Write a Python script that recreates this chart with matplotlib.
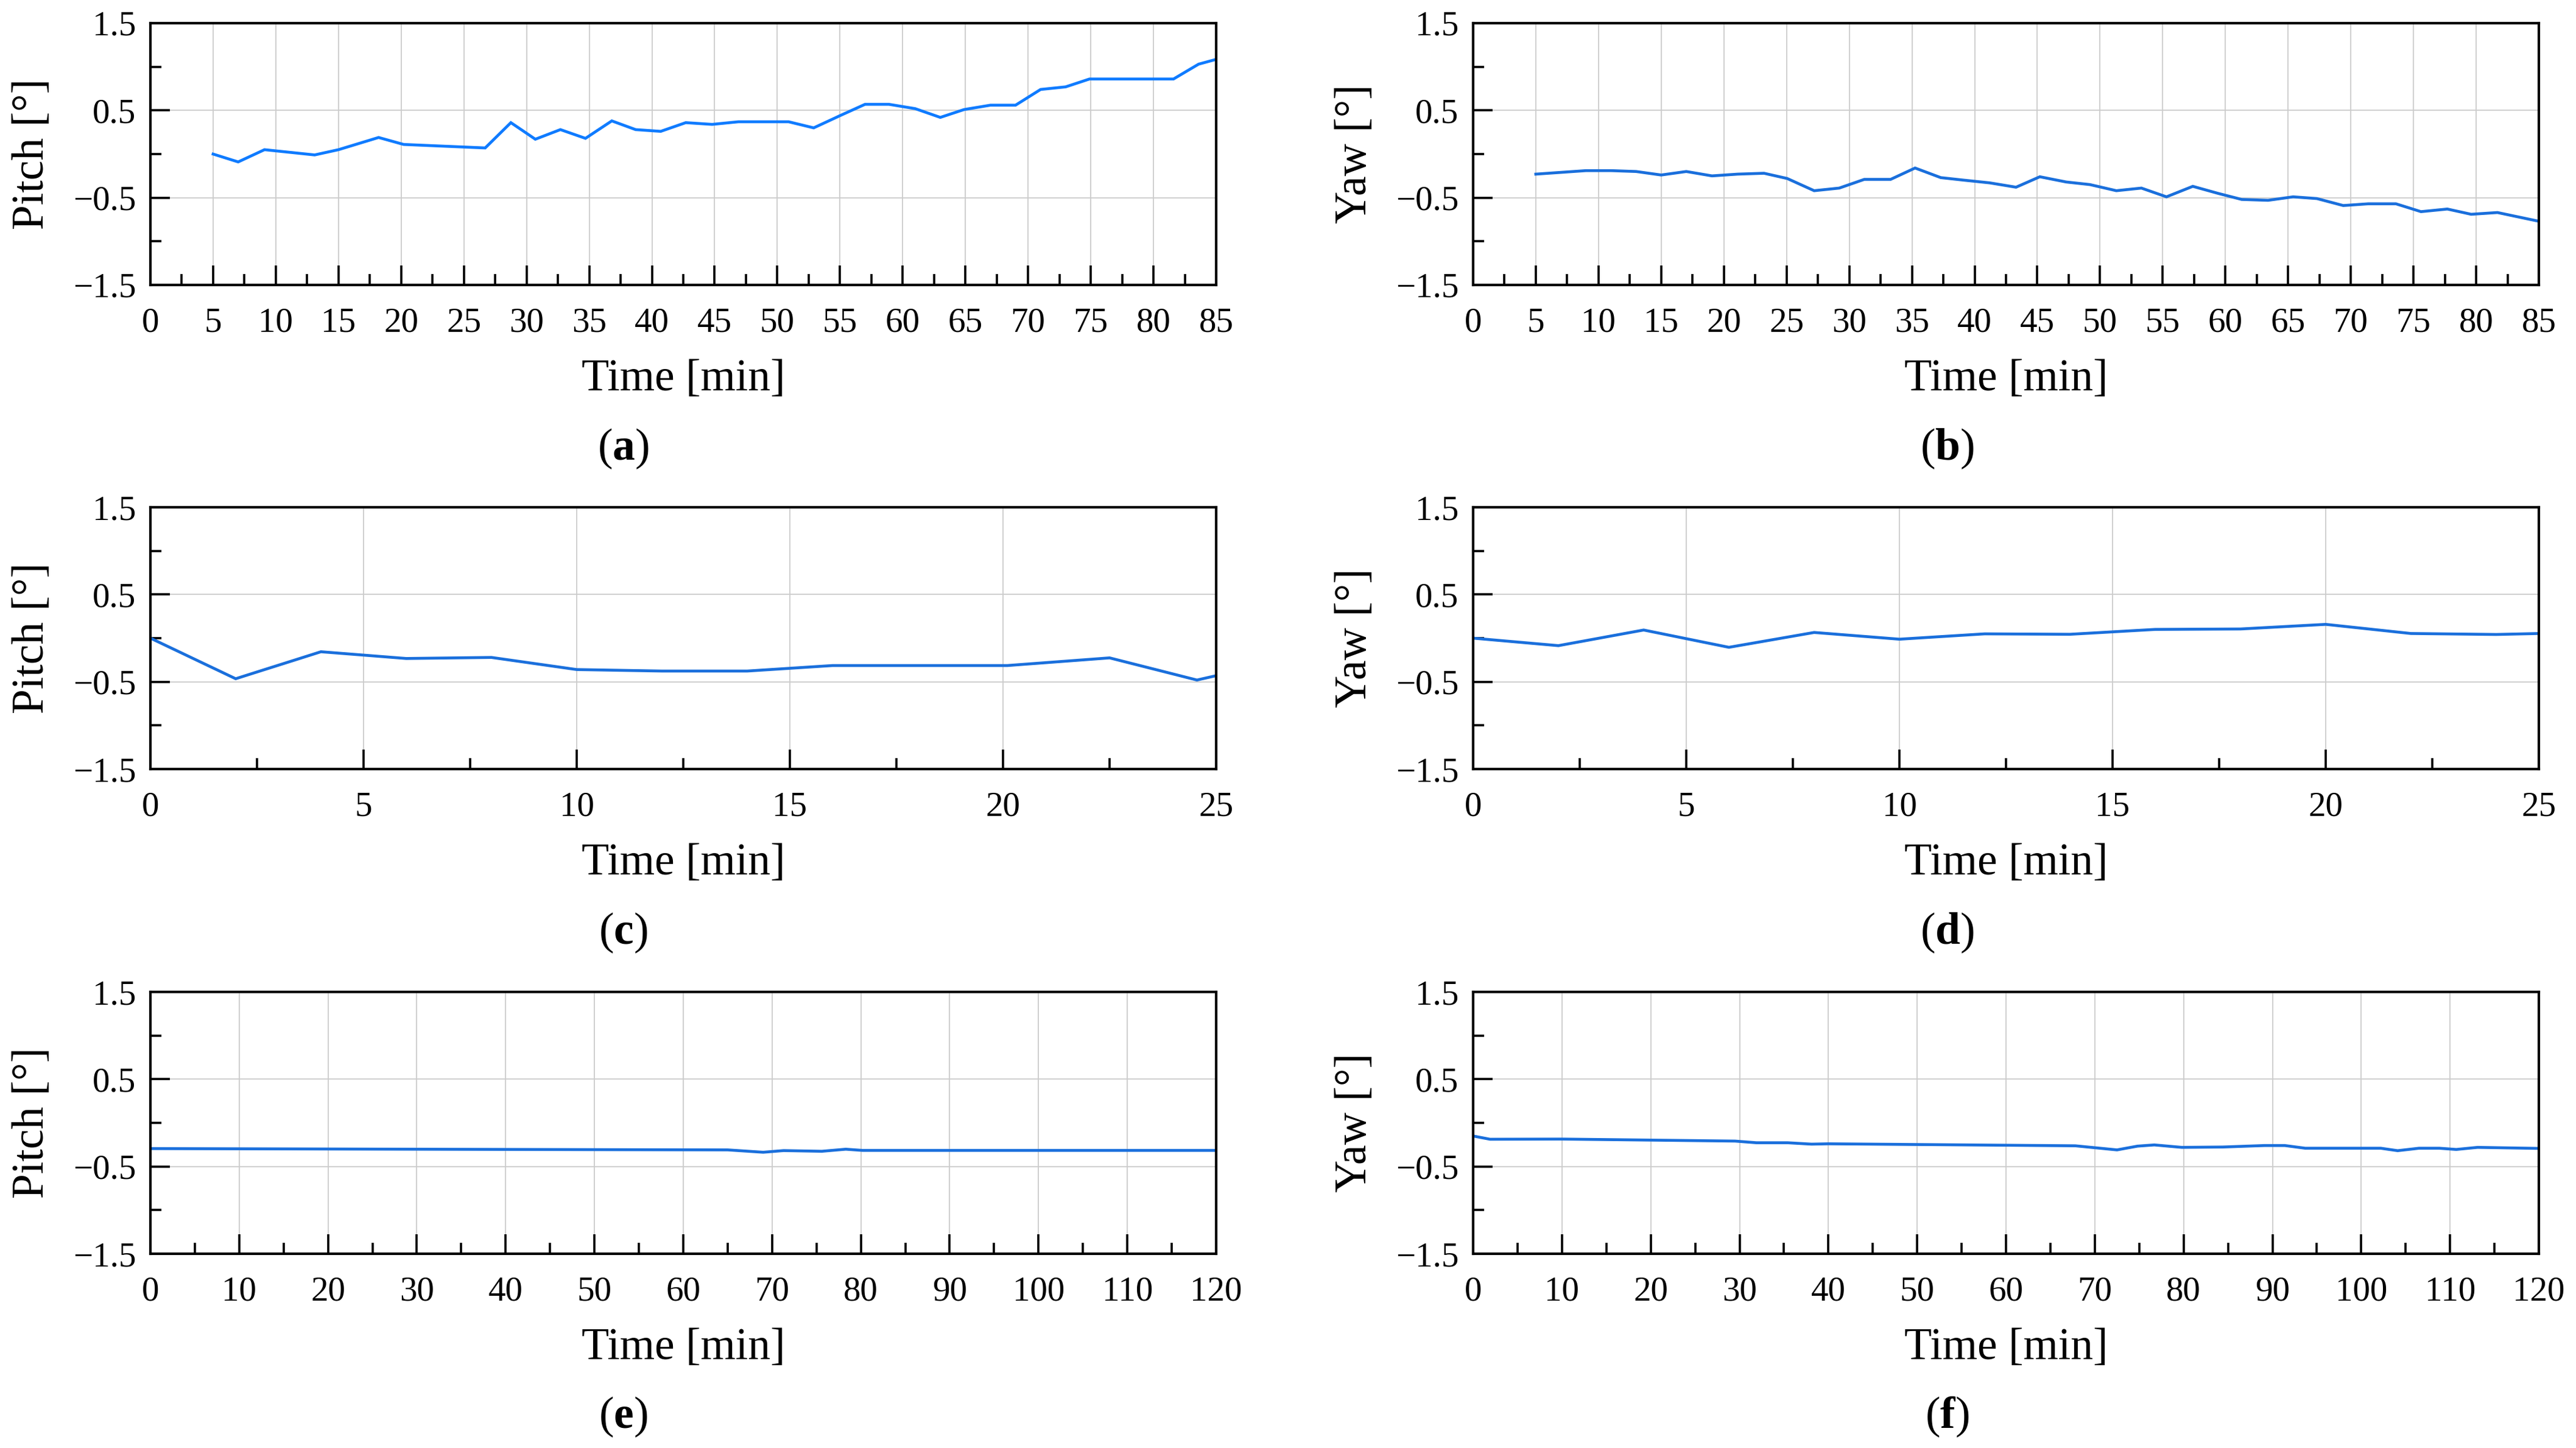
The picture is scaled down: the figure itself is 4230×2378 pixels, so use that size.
import matplotlib
matplotlib.use("Agg")
import matplotlib.pyplot as plt
from matplotlib.ticker import MultipleLocator

plt.rcParams['font.family'] = ['Liberation Serif', 'DejaVu Serif']
plt.rcParams['mathtext.fontset'] = 'custom'
plt.rcParams['mathtext.rm'] = 'Liberation Serif'
plt.rcParams['mathtext.bf'] = 'Liberation Serif:bold'

# ---------------- data ----------------
# (a) Pitch, 0-85 min
t_a = [5, 7, 9.1, 13.1, 15.0, 18.2, 20.2, 26.7, 28.75, 30.7, 32.7, 34.7, 36.8, 38.7,
       40.7, 42.7, 44.8, 46.9, 50.9, 52.9, 55.0, 57.0, 58.9, 61.0, 63.0, 64.9, 67.0,
       69.0, 71.0, 73.0, 74.9, 81.6, 83.6, 85.0]
pitch_a = [0.0, -0.09, 0.05, -0.01, 0.05, 0.19, 0.11, 0.07, 0.36, 0.17, 0.28, 0.18, 0.38, 0.28,
           0.26, 0.36, 0.34, 0.37, 0.37, 0.30, 0.44, 0.57, 0.57, 0.52, 0.42, 0.51, 0.56,
           0.56, 0.74, 0.77, 0.86, 0.86, 1.03, 1.085]

# (b) Yaw, 0-85 min
t_b = [5, 9.0, 11.0, 13.0, 15.0, 17.0, 19.05, 21.1, 23.2, 25.05, 27.2, 29.2, 31.2, 33.3,
       35.25, 37.3, 39.2, 41.2, 43.3, 45.2, 47.3, 49.2, 51.3, 53.3, 55.3, 57.4, 59.4,
       61.3, 63.4, 65.4, 67.3, 69.4, 71.4, 73.6, 75.6, 77.7, 79.6, 81.7, 85.0]
yaw_b = [-0.23, -0.19, -0.19, -0.20, -0.24, -0.20, -0.25, -0.23, -0.22, -0.28, -0.42, -0.39,
         -0.29, -0.29, -0.16, -0.27, -0.30, -0.33, -0.38, -0.26, -0.32, -0.35, -0.42, -0.39,
         -0.49, -0.37, -0.45, -0.52, -0.53, -0.49, -0.51, -0.59, -0.57, -0.57, -0.66, -0.63,
         -0.69, -0.67, -0.77]

# (c) Pitch, 0-25 min
t_c = [0, 2, 4, 6, 8, 10, 12, 14, 16, 20.1, 22.5, 24.55, 25]
pitch_c = [0.0, -0.465, -0.156, -0.233, -0.221, -0.36, -0.377, -0.377, -0.314, -0.314,
           -0.226, -0.48, -0.43]

# (d) Yaw, 0-25 min
t_d = [0, 2, 4, 6, 8, 10, 12, 14, 16, 18, 20, 22, 24, 25]
yaw_d = [0.0, -0.086, 0.093, -0.105, 0.065, -0.012, 0.049, 0.044, 0.10, 0.105, 0.158,
         0.053, 0.042, 0.053]

# (e) Pitch, 0-120 min
t_e = [0, 50, 65, 69, 71.3, 75.6, 78.3, 80.2, 120]
pitch_e = [-0.295, -0.307, -0.31, -0.337, -0.318, -0.326, -0.302, -0.316, -0.316]

# (f) Yaw, 0-120 min
t_f = [0, 1.9, 10, 29.5, 31.9, 35.4, 38.1, 40, 67.8, 72.5, 74.8, 76.7, 79.8, 84.4, 89.1,
       91.4, 93.7, 102.2, 104.1, 106.5, 108.8, 110.7, 113.1, 120]
yaw_f = [-0.151, -0.188, -0.186, -0.209, -0.228, -0.228, -0.244, -0.24, -0.263, -0.31,
         -0.267, -0.253, -0.281, -0.277, -0.26, -0.26, -0.291, -0.291, -0.319, -0.291,
         -0.291, -0.305, -0.281, -0.293]

yticks = [1.5, 0.5, -0.5, -1.5]
panel_letters = ['a', 'b', 'c', 'd', 'e', 'f']

panels = [
    (t_a, pitch_a, 'Pitch [°]', 85, 5, 2.5, '#0f7bff'),
    (t_b, yaw_b, 'Yaw [°]', 85, 5, 2.5, '#1a6fdc'),
    (t_c, pitch_c, 'Pitch [°]', 25, 5, 2.5, '#1a6fdc'),
    (t_d, yaw_d, 'Yaw [°]', 25, 5, 2.5, '#1a6fdc'),
    (t_e, pitch_e, 'Pitch [°]', 120, 10, 5, '#1a6fdc'),
    (t_f, yaw_f, 'Yaw [°]', 120, 10, 5, '#1a6fdc'),
]

# ---------------- figure ----------------
W, H = 4230, 2378
fig = plt.figure(figsize=(W / 100, H / 100), dpi=100)

lefts = [247 / W, 2419 / W]
width = 1750 / W
bottoms = [1 - 468 / H, 1 - 1263 / H, 1 - 2059 / H]
height = 430 / H
label_x = [1023 / W, 3197 / W]
label_y = [1 - 737 / H, 1 - 1532 / H, 1 - 2327 / H]

TICK_FS = 41
LABEL_FS = 53

for i, (t, v, ylab, xmax, xmaj, xmin, col) in enumerate(panels):
    r, c = divmod(i, 2)
    ax = fig.add_axes([lefts[c], bottoms[r], width, height])
    ax.plot(t, v, color=col, lw=3.4, solid_joinstyle='miter')
    ax.set_xlim(0, xmax)
    ax.set_ylim(-1.5, 1.5)
    ax.xaxis.set_major_locator(MultipleLocator(xmaj))
    ax.xaxis.set_minor_locator(MultipleLocator(xmin))
    ax.set_yticks(yticks)
    ax.yaxis.set_minor_locator(MultipleLocator(0.5))
    ax.grid(True, which='major', color='#cccccc', lw=1.3)
    ax.set_axisbelow(True)
    for s in ax.spines.values():
        s.set_linewidth(3.0)
        s.set_color('black')
    ax.tick_params(which='both', direction='in', top=False, right=False,
                   labelsize=TICK_FS, color='black')
    ax.tick_params(axis='x', which='both', pad=26)
    ax.tick_params(axis='y', which='both', pad=17)
    ax.tick_params(which='major', length=23, width=2.6)
    ax.tick_params(which='minor', length=13, width=2.6)
    ax.set_xlabel('Time [min]', fontsize=LABEL_FS, labelpad=24)
    ax.set_ylabel(ylab, fontsize=LABEL_FS, labelpad=24)
    fig.text(label_x[c], label_y[r], '(' + r'$\mathbf{' + panel_letters[i] + '}$' + ')',
             fontsize=LABEL_FS, ha='center', va='center')

fig.savefig('out.png', dpi=100, facecolor='white')
